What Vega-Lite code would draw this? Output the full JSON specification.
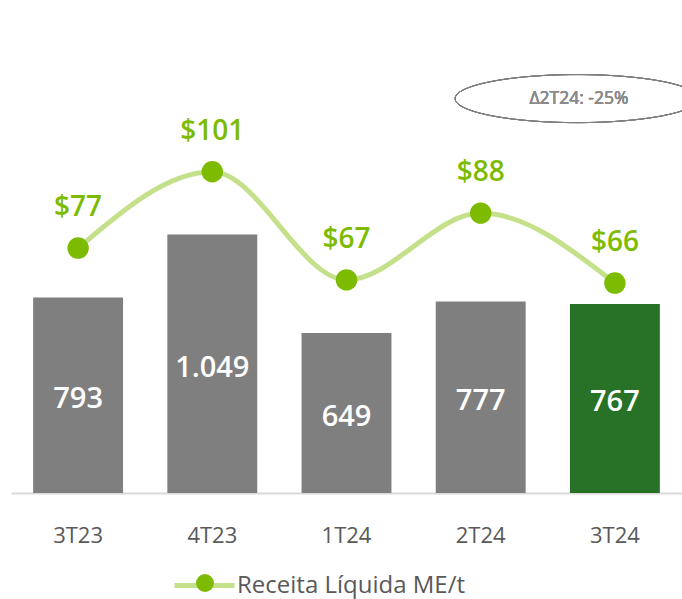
{
  "$schema": "https://vega.github.io/schema/vega-lite/v6.json",
  "autosize": {"type": "none"},
  "width": 671,
  "height": 493,
  "padding": {"left": 11, "top": 0, "right": 0, "bottom": 106},
  "background": "white",
  "config": {
    "view": {"stroke": null},
    "font": "Open Sans"
  },
  "data": {
    "values": [
      {"q": "3T23", "vol": 793, "vlabel": "793", "rl": 77, "rlabel": "$77"},
      {"q": "4T23", "vol": 1049, "vlabel": "1.049", "rl": 101, "rlabel": "$101"},
      {"q": "1T24", "vol": 649, "vlabel": "649", "rl": 67, "rlabel": "$67"},
      {"q": "2T24", "vol": 777, "vlabel": "777", "rl": 88, "rlabel": "$88"},
      {"q": "3T24", "vol": 767, "vlabel": "767", "rl": 66, "rlabel": "$66"}
    ]
  },
  "encoding": {
    "x": {
      "field": "q",
      "type": "nominal",
      "sort": null,
      "scale": {"paddingInner": 0.33, "paddingOuter": 0.165},
      "axis": {
        "title": null,
        "labelAngle": 0,
        "ticks": false,
        "domainColor": "#d9d9d9",
        "domainWidth": 2,
        "labelFontSize": 22,
        "labelColor": "#595959",
        "labelPadding": 32,
        "labelFont": "Open Sans"
      }
    }
  },
  "layer": [
    {
      "mark": {"type": "bar"},
      "encoding": {
        "y": {"field": "vol", "type": "quantitative", "scale": {"domain": [0, 2000]}, "axis": null},
        "color": {
          "condition": {"test": "datum.q === '3T24'", "value": "#277227"},
          "value": "#7f7f7f"
        }
      }
    },
    {
      "mark": {"type": "text", "color": "white", "fontSize": 29, "fontWeight": 600, "baseline": "middle", "dy": 4},
      "encoding": {
        "y": {"field": "vol", "type": "quantitative", "scale": {"domain": [0, 4000]}, "axis": null},
        "text": {"field": "vlabel"}
      }
    },
    {
      "encoding": {
        "y": {"field": "rl", "type": "quantitative", "scale": {"domain": [0, 155]}, "axis": null}
      },
      "layer": [
        {
          "mark": {"type": "line", "interpolate": "monotone", "strokeWidth": 5},
          "encoding": {
            "stroke": {
              "datum": "Receita Líquida ME/t",
              "scale": {"domain": ["Receita Líquida ME/t"], "range": ["#c5e08a"]},
              "legend": {
                "title": null,
                "orient": "none",
                "legendX": 161,
                "legendY": 553,
                "symbolType": "stroke",
                "symbolSize": 3600,
                "symbolStrokeWidth": 5,
                "labelFontSize": 24,
                "labelColor": "#595959",
                "labelOffset": 0,
                "labelLimit": 400,
                "labelFont": "Open Sans"
              }
            }
          }
        },
        {
          "mark": {"type": "point", "filled": true, "opacity": 1, "size": 460},
          "encoding": {
            "fill": {
              "datum": "ponto",
              "scale": {"domain": ["ponto"], "range": ["#7cbb00"]},
              "legend": {
                "title": null,
                "orient": "none",
                "legendX": 185,
                "legendY": 574,
                "symbolType": "circle",
                "symbolSize": 320,
                "symbolStrokeWidth": 0,
                "symbolOpacity": 1,
                "labelExpr": "''"
              }
            }
          }
        },
        {
          "mark": {"type": "text", "color": "#7cbb00", "fontSize": 28, "fontWeight": 600, "dy": -40, "baseline": "middle"},
          "encoding": {"text": {"field": "rlabel"}}
        },
        {
          "mark": {
            "type": "point",
            "shape": "M -1.31 0 A 1 0.197 0 1 1 0.69 0 A 1 0.197 0 1 1 -1.31 0 Z",
            "size": 59536,
            "filled": false,
            "stroke": "#7f7f7f",
            "strokeWidth": 1,
            "opacity": 1
          },
          "encoding": {
            "x": {"datum": "3T24"},
            "y": {"datum": 124}
          }
        },
        {
          "mark": {"type": "text", "color": "#8a8a8a", "fontSize": 17.5, "fontWeight": "normal", "dx": -36, "baseline": "middle"},
          "encoding": {
            "x": {"datum": "3T24"},
            "y": {"datum": 124},
            "text": {"value": "Δ2T24: -25%"}
          }
        }
      ]
    }
  ],
  "resolve": {"scale": {"y": "independent"}}
}
